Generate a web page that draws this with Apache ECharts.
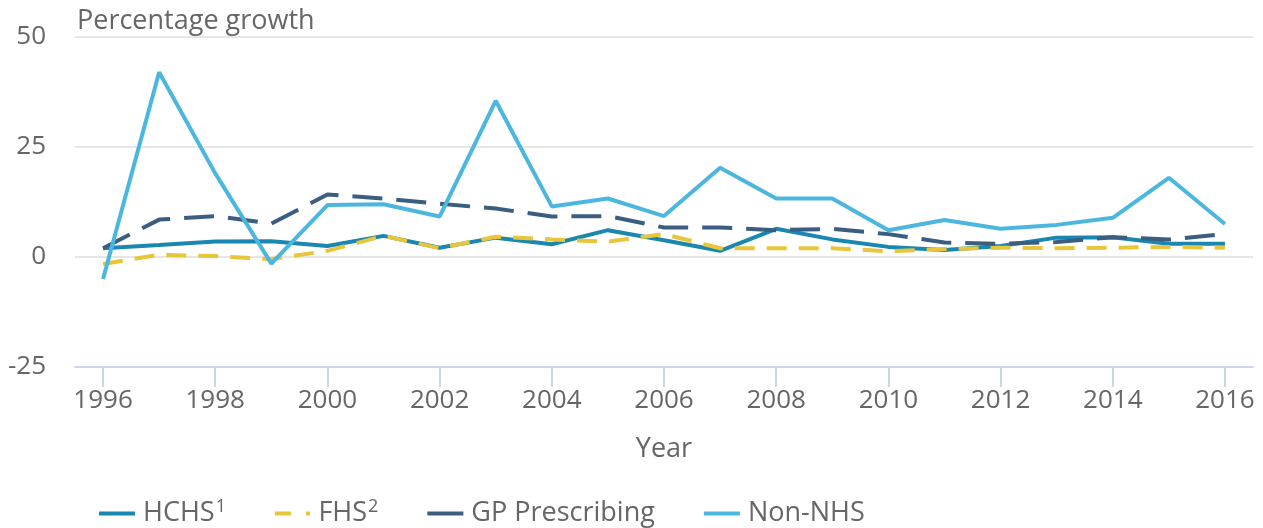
<!DOCTYPE html>
<html>
<head>
<meta charset="utf-8">
<script src="https://cdn.jsdelivr.net/npm/echarts@6/dist/echarts.min.js"></script>
<style>
  html, body { margin: 0; padding: 0; background: #fff; }
  #chart { width: 1263px; height: 528px; }
</style>
</head>
<body>
<div id="chart"></div>
<script>
// Year-on-year percentage growth by spending area
var years = ['1996', '1997', '1998', '1999', '2000', '2001', '2002', '2003', '2004', '2005', '2006',
  '2007', '2008', '2009', '2010', '2011', '2012', '2013', '2014', '2015', '2016'];

var hchs = [2, 2.7, 3.5, 3.6, 2.5, 4.8, 2.1, 4.4, 2.9, 6.1, 3.8, 1.4, 6.4, 4, 2.3, 1.6, 2.5, 4.4, 4.5, 3, 3];
var fhs = [-1.6, 0.5, 0.2, -0.5, 1.4, 4.8, 2, 4.6, 4, 3.5, 5.2, 2, 2, 2, 1.3, 1.8, 2.1, 2, 2.1, 2.3, 2.1];
var gpPrescribing = [2, 8.5, 9.3, 7.6, 14.2, 13.3, 12.1, 11, 9.2, 9.3, 6.7, 6.7, 6.1, 6.4, 5.2, 3.3, 3, 3.4, 4.5, 4, 5.2];
var nonNhs = [-5, 42, 19, -1.5, 11.8, 12, 9.2, 35.5, 11.5, 13.3, 9.3, 20.3, 13.3, 13.3, 6.1, 8.4, 6.4, 7.3, 8.9, 18, 7.5];

var yTicks = { min: -25, max: 50, interval: 25 };

var TEXT = '#666666';
var FONT = '"Open Sans", "Noto Sans", sans-serif';

var COLORS = {
  hchs: '#1a87b0',
  fhs: '#e8c53a',
  gp: '#3a5d80',
  nonNhs: '#4cb7de'
};

// superscript footnote markers in the legend
var SUPS = { 'HCHS': '1', 'FHS': '2' };

// legend swatches: plain bar, or dash + dot for the dashed FHS line
var ICON_SOLID = 'path://M0,0H36V4H0Z';
var ICON_DASH = 'path://M0,0H16V4H0Z M31,0H35V4H31Z';

function lineSeries(name, data, color, dash) {
  return {
    name: name,
    type: 'line',
    data: data,
    symbol: 'none',
    lineStyle: { width: 4, color: color, type: dash || 'solid' },
    itemStyle: { color: color }
  };
}

var chart = echarts.init(document.getElementById('chart'), null, { renderer: 'canvas' });

chart.setOption({
  backgroundColor: '#ffffff',
  animation: false,
  textStyle: { fontFamily: FONT },
  title: {
    text: 'Percentage growth',
    left: 72,
    top: 3,
    textStyle: { color: TEXT, fontSize: 27, fontWeight: 'normal', fontFamily: FONT }
  },
  grid: { left: 75, right: 10, top: 37, bottom: 161, containLabel: false },
  legend: {
    left: 94,
    top: 493,
    itemWidth: 36,
    itemHeight: 4,
    itemGap: 49,
    data: [
      { name: 'HCHS', icon: ICON_SOLID },
      { name: 'FHS', icon: ICON_DASH },
      { name: 'GP Prescribing', icon: ICON_SOLID },
      { name: 'Non-NHS', icon: ICON_SOLID }
    ],
    textStyle: {
      color: TEXT,
      fontSize: 27,
      fontFamily: FONT,
      padding: [0, 0, 0, 3],
      rich: {
        t: { fontSize: 27, color: TEXT, fontFamily: FONT },
        s: { fontSize: 18, color: TEXT, fontFamily: FONT, padding: [0, 0, 13, 1] }
      }
    },
    formatter: function (name) {
      return SUPS[name] ? '{t|' + name + '}{s|' + SUPS[name] + '}' : '{t|' + name + '}';
    }
  },
  xAxis: {
    type: 'category',
    data: years,
    boundaryGap: true,
    name: 'Year',
    nameLocation: 'middle',
    nameGap: 69,
    nameTextStyle: { color: TEXT, fontSize: 27, fontFamily: FONT },
    axisLine: { show: true, onZero: false, lineStyle: { color: '#ccd6eb', width: 2 } },
    axisTick: { show: true, alignWithLabel: true, interval: 1, length: 20, lineStyle: { color: '#ccd6eb', width: 2 } },
    axisLabel: { interval: 1, color: TEXT, fontSize: 26, margin: 21, fontFamily: FONT },
    splitLine: { show: false }
  },
  yAxis: {
    type: 'value',
    min: yTicks.min,
    max: yTicks.max,
    interval: yTicks.interval,
    axisLine: { show: false },
    axisTick: { show: false },
    axisLabel: { color: TEXT, fontSize: 26, margin: 29, fontFamily: FONT },
    splitLine: { lineStyle: { color: '#e6e6e6', width: 2 } }
  },
  series: [
    lineSeries('HCHS', hchs, COLORS.hchs),
    lineSeries('FHS', fhs, COLORS.fhs, [20, 12]),
    lineSeries('GP Prescribing', gpPrescribing, COLORS.gp, [30, 14]),
    lineSeries('Non-NHS', nonNhs, COLORS.nonNhs)
  ]
});
</script>
</body>
</html>
